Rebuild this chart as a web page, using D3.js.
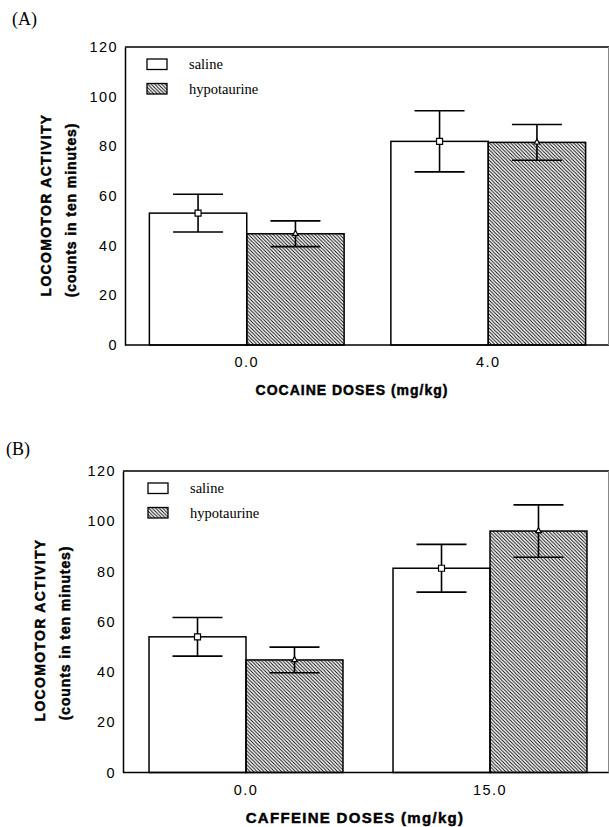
<!DOCTYPE html>
<html lang="en">
  <head>
    <meta charset="utf-8">
    <title>Locomotor activity - cocaine / caffeine</title>
    <style>
      body{ margin:0; background:#fff; }
      .tick text{ font-family:"Liberation Sans", Arial, sans-serif; font-size:14.5px; letter-spacing:1.4px; fill:#000; }
      .ttl{ font-family:"Liberation Sans", Arial, sans-serif; font-weight:bold; fill:#000; stroke:#000; stroke-width:0.45px; }
      .serif{ font-family:"Liberation Serif", "Times New Roman", serif; fill:#000; }
    </style>
    <script src="https://cdn.jsdelivr.net/npm/d3@7"></script>
  </head>
  <body>
  <svg width="609" height="827"></svg>
  <script>

// data
var groups = ["saline", "hypotaurine"];
var yTicks = [0, 20, 40, 60, 80, 100, 120];

var dosesA = ["0.0", "4.0"];
var salineA = [53.1, 82.0];
var salineErrA = [7.6, 12.3];
var hypoA = [44.8, 81.6];
var hypoErrA = [5.2, 7.2];

var dosesB = ["0.0", "15.0"];
var salineB = [54.0, 81.3];
var salineErrB = [7.7, 9.5];
var hypoB = [44.8, 96.1];
var hypoErrB = [5.1, 10.4];

var svg = d3.select("svg");

// hatch pattern for hypotaurine
svg.append("defs").append("pattern")
    .attr("id", "hatch")
    .attr("patternUnits", "userSpaceOnUse")
    .attr("width", 3.5).attr("height", 3.5)
  .append("path")
    .attr("d", "M0,0L3.5,3.5M-1,2.5L1,4.5M2.5,-1L4.5,1")
    .attr("stroke", "#000")
    .attr("stroke-width", 0.9);

function drawPanel(p) {
  var g = svg.append("g");
  var yScale = d3.scaleLinear().domain([0, 120]).range([p.y0, p.y120]);
  var x0 = d3.scaleBand().domain(p.doses).range([p.left, p.right]).padding(0);
  var x1 = d3.scaleBand().domain(groups).range([0, x0.bandwidth()])
      .paddingInner(0).paddingOuter(p.po);

  var rows = p.doses.map(function(d, i) {
    return [
      {dose: d, grp: "saline", v: p.sal[i], e: p.salErr[i]},
      {dose: d, grp: "hypotaurine", v: p.hyp[i], e: p.hypErr[i]}
    ];
  });
  var flat = [].concat.apply([], rows);

  //bars
  g.selectAll("rect.bar")
      .data(flat)
      .enter()
      .append("rect")
      .attr("class", "bar")
      .attr("x", function(d) { return x0(d.dose) + x1(d.grp); })
      .attr("width", x1.bandwidth())
      .attr("y", function(d) { return yScale(d.v); })
      .attr("height", function(d) { return yScale(0) - yScale(d.v); })
      .attr("fill", function(d) { return d.grp == "saline" ? "#fff" : "url(#hatch)"; })
      .attr("stroke", "#000")
      .attr("stroke-width", 1.5);

  //error bars
  var cx = function(d) { return x0(d.dose) + x1(d.grp) + x1.bandwidth() / 2; };
  var eb = g.selectAll("g.err").data(flat).enter().append("g").attr("class", "err")
      .attr("stroke", "#000").attr("stroke-width", 1.6);
  eb.append("line")
      .attr("x1", cx).attr("x2", cx)
      .attr("y1", function(d) { return yScale(d.v + d.e); })
      .attr("y2", function(d) { return yScale(d.v - d.e); });
  [1, -1].forEach(function(s) {
    eb.append("line")
        .attr("x1", function(d) { return cx(d) - 25; })
        .attr("x2", function(d) { return cx(d) + 25; })
        .attr("y1", function(d) { return yScale(d.v + s * d.e); })
        .attr("y2", function(d) { return yScale(d.v + s * d.e); });
  });

  //markers
  g.selectAll("path.mark")
      .data(flat)
      .enter()
      .append("path")
      .attr("class", "mark")
      .attr("d", function(d) {
        return d.grp == "saline" ? d3.symbol(d3.symbolSquare, 36)() : d3.symbol(d3.symbolTriangle, 14)();
      })
      .attr("transform", function(d) { return "translate(" + cx(d) + "," + yScale(d.v) + ")"; })
      .attr("fill", "#fff")
      .attr("stroke", "#000")
      .attr("stroke-width", 1.2);

  //axes
  g.append("g")
      .attr("transform", "translate(" + p.axisX + ",0)")
      .call(d3.axisLeft(yScale).tickValues(yTicks).tickSize(0).tickPadding(7))
      .call(function(a) { a.select(".domain").attr("stroke-width", 1.5); });

  g.append("g")
      .attr("transform", "translate(0," + p.y0 + ")")
      .call(d3.axisBottom(x0).tickSize(0).tickPadding(12))
      .call(function(a) { a.select(".domain").remove(); });

  //frame lines
  g.append("path")
      .attr("d", "M" + p.axisX + "," + yScale(0) + "H609M" + p.axisX + "," + yScale(120) + "H609")
      .attr("stroke", "#000").attr("stroke-width", 1.5).attr("fill", "none");
  g.append("line")
      .attr("x1", 608.5).attr("x2", 608.5)
      .attr("y1", yScale(120)).attr("y2", yScale(0))
      .attr("stroke", "#888").attr("stroke-width", 1);

  //titles
  g.append("text").attr("class", "ttl")
      .attr("transform", "translate(" + p.yl1[0] + "," + p.yl1[1] + ") rotate(-90)")
      .attr("text-anchor", "middle")
      .style("font-size", "14px").style("letter-spacing", "1.3px")
      .text("LOCOMOTOR ACTIVITY");
  g.append("text").attr("class", "ttl")
      .attr("transform", "translate(" + p.yl2[0] + "," + p.yl2[1] + ") rotate(-90)")
      .attr("text-anchor", "middle")
      .style("font-size", "14px").style("letter-spacing", "0.9px")
      .text("(counts in ten minutes)");
  g.append("text").attr("class", "ttl")
      .attr("x", p.xt[0]).attr("y", p.xt[1])
      .attr("text-anchor", "middle")
      .style("font-size", p.xtSize + "px").style("letter-spacing", p.xtLs + "px")
      .text(p.xTitle);

  g.append("text").attr("class", "serif")
      .attr("x", p.letter[0]).attr("y", p.letter[1])
      .style("font-size", "18px")
      .text(p.name);

  //legend
  var leg = g.selectAll("g.leg").data(groups).enter().append("g").attr("class", "leg")
      .attr("transform", function(d, i) { return "translate(" + p.leg[0] + "," + (p.leg[1] + i * 24.5) + ")"; });
  leg.append("rect")
      .attr("width", 20).attr("height", 10.5)
      .attr("fill", function(d) { return d == "saline" ? "#fff" : "url(#hatch)"; })
      .attr("stroke", "#000").attr("stroke-width", 1.3);
  leg.append("text").attr("class", "serif")
      .attr("x", 42).attr("y", 10)
      .style("font-size", "14.5px")
      .text(function(d) { return d; });
}

drawPanel({
  name: "(A)", letter: [12, 25],
  doses: dosesA, sal: salineA, salErr: salineErrA, hyp: hypoA, hypErr: hypoErrA,
  y0: 345, y120: 47, axisX: 125, left: 126, right: 609, po: 0.24,
  yl1: [51, 205], yl2: [76, 210],
  xTitle: "COCAINE DOSES (mg/kg)", xt: [352, 395], xtSize: 14, xtLs: 1,
  leg: [147, 59]
});

drawPanel({
  name: "(B)", letter: [6, 455],
  doses: dosesB, sal: salineB, salErr: salineErrB, hyp: hypoB, hypErr: hypoErrB,
  y0: 772.5, y120: 471, axisX: 123, left: 124, right: 612, po: 0.258,
  yl1: [45, 630], yl2: [70, 633],
  xTitle: "CAFFEINE DOSES (mg/kg)", xt: [355, 823], xtSize: 15, xtLs: 1.3,
  leg: [148, 483]
});

  </script>
  </body>
</html>
